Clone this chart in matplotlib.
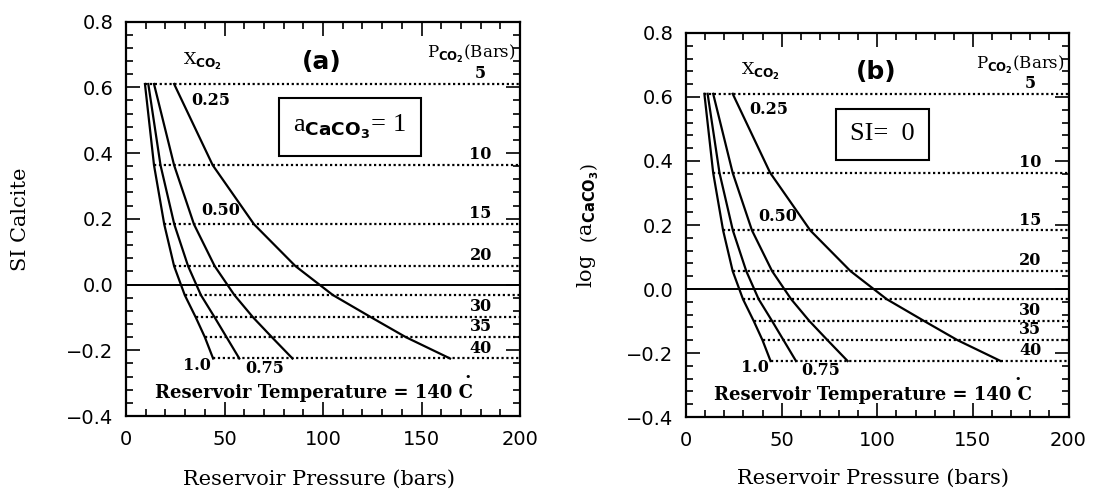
import matplotlib
matplotlib.use('Agg')
import matplotlib.pyplot as plt
from matplotlib.ticker import MultipleLocator

plt.rcParams['mathtext.fontset'] = 'custom'
plt.rcParams['mathtext.rm'] = 'DejaVu Serif'
plt.rcParams['mathtext.bf'] = 'DejaVu Sans:bold'

# ---- data ----
pco2_labels = ['5', '10', '15', '20', '', '30', '35', '40']   # P_CO2 (bars)
si_levels = [0.610, 0.363, 0.183, 0.056, -0.032, -0.100, -0.160, -0.225]

# reservoir pressure (bars) where each X_CO2 curve meets each P_CO2 level
x_025 = [24.4, 44.0, 65.0, 86.0, 105.0, 124.5, 142.0, 164.5]
x_050 = [14.2, 24.4, 34.5, 45.0, 55.0, 64.5, 74.0, 84.5]
x_075 = [11.3, 17.5, 24.5, 31.5, 38.0, 45.0, 51.0, 57.5]
x_100 = [9.6, 14.2, 19.4, 24.4, 29.8, 35.4, 40.0, 44.2]
curve_labels = ['0.25', '0.50', '0.75', '1.0']
curve_label_pos = [(43, 0.561), (48, 0.226), (70.5, -0.256), (36, -0.246)]

panels = [
    dict(rect=[0.1151, 0.1527, 0.3598, 0.8035], tag='(a)',
         ylabel='SI Calcite', box=r'a$_{\mathbf{CaCO_3}}$= 1', box_xy=(113.5, 0.48),
         ylab_x=-0.245),
    dict(rect=[0.6265, 0.1507, 0.3493, 0.7821], tag='(b)',
         ylabel=r'log  $\left(\mathregular{a}_{\mathbf{CaCO_3}}\right)$', box='SI=  0',
         box_xy=(102.7, 0.483), ylab_x=-0.222),
]

fig = plt.figure(figsize=(10.95, 4.91), dpi=100)

for p in panels:
    ax = fig.add_axes(p['rect'])
    ax.set_xlim(0, 200)
    ax.set_ylim(-0.4, 0.8)

    # dotted P_CO2 lines, from the X=1.0 curve to the right edge
    for xs, lev, lab in zip(x_100, si_levels, pco2_labels):
        ax.plot([xs, 200], [lev, lev], color='black', lw=1.6,
                linestyle=(0, (1, 1.2)), solid_capstyle='butt')
        if lab:
            ax.text(180, lev + 0.006, lab, ha='center', va='bottom',
                    fontsize=11.5, fontweight='bold', family='DejaVu Serif')

    ax.axhline(0.0, color='black', lw=1.4)

    for xs in (x_025, x_050, x_075, x_100):
        ax.plot(xs, si_levels, color='black', lw=1.6)

    for lab, (lx, ly) in zip(curve_labels, curve_label_pos):
        ax.text(lx, ly, lab, ha='center', va='center', fontsize=11.5,
                fontweight='bold', family='DejaVu Serif')

    ax.text(29, 0.68, r'X$_{\mathbf{CO_2}}$', ha='left', va='center',
            fontsize=12.5, family='DejaVu Serif')
    ax.text(99.5, 0.678, p['tag'], ha='center', va='center', fontsize=18,
            fontweight='bold', family='DejaVu Sans')
    ax.text(198, 0.70, r'P$_{\mathbf{CO_2}}$(Bars)', ha='right', va='center',
            fontsize=12, family='DejaVu Serif')
    ax.text(p['box_xy'][0], p['box_xy'][1], p['box'], ha='center', va='center',
            fontsize=19, family='Liberation Serif',
            bbox=dict(boxstyle='square,pad=0.55', fc='white', ec='black', lw=1.5))
    ax.text(14.7, -0.33, 'Reservoir Temperature = 140 C', ha='left', va='center',
            fontsize=13, fontweight='bold', family='DejaVu Serif')
    ax.text(173.5, -0.281, '\u2022', ha='center', va='center', fontsize=8,
            family='DejaVu Sans')

    ax.set_xlabel('Reservoir Pressure (bars)', fontsize=15, family='DejaVu Serif')
    ax.set_ylabel(p['ylabel'], fontsize=15, family='DejaVu Serif')
    ax.xaxis.set_label_coords(0.49, -0.135)
    ax.yaxis.set_label_coords(p['ylab_x'], 0.5)

    ax.xaxis.set_major_locator(MultipleLocator(50))
    ax.xaxis.set_minor_locator(MultipleLocator(10))
    ax.yaxis.set_major_locator(MultipleLocator(0.2))
    ax.yaxis.set_minor_locator(MultipleLocator(0.04))
    ax.tick_params(which='both', direction='in', top=True, right=True,
                   width=1.2, labelsize=14)
    ax.tick_params(which='major', length=10)
    ax.tick_params(which='minor', length=5)
    ax.tick_params(axis='x', pad=10)
    ax.tick_params(axis='y', pad=9)
    ax.set_yticks([-0.4, -0.2, 0.0, 0.2, 0.4, 0.6, 0.8])
    ax.set_yticklabels(['\u22120.4', '\u22120.2', '0.0', '0.2', '0.4', '0.6', '0.8'])
    for s in ax.spines.values():
        s.set_linewidth(1.6)

fig.savefig('out.png', dpi=100)
